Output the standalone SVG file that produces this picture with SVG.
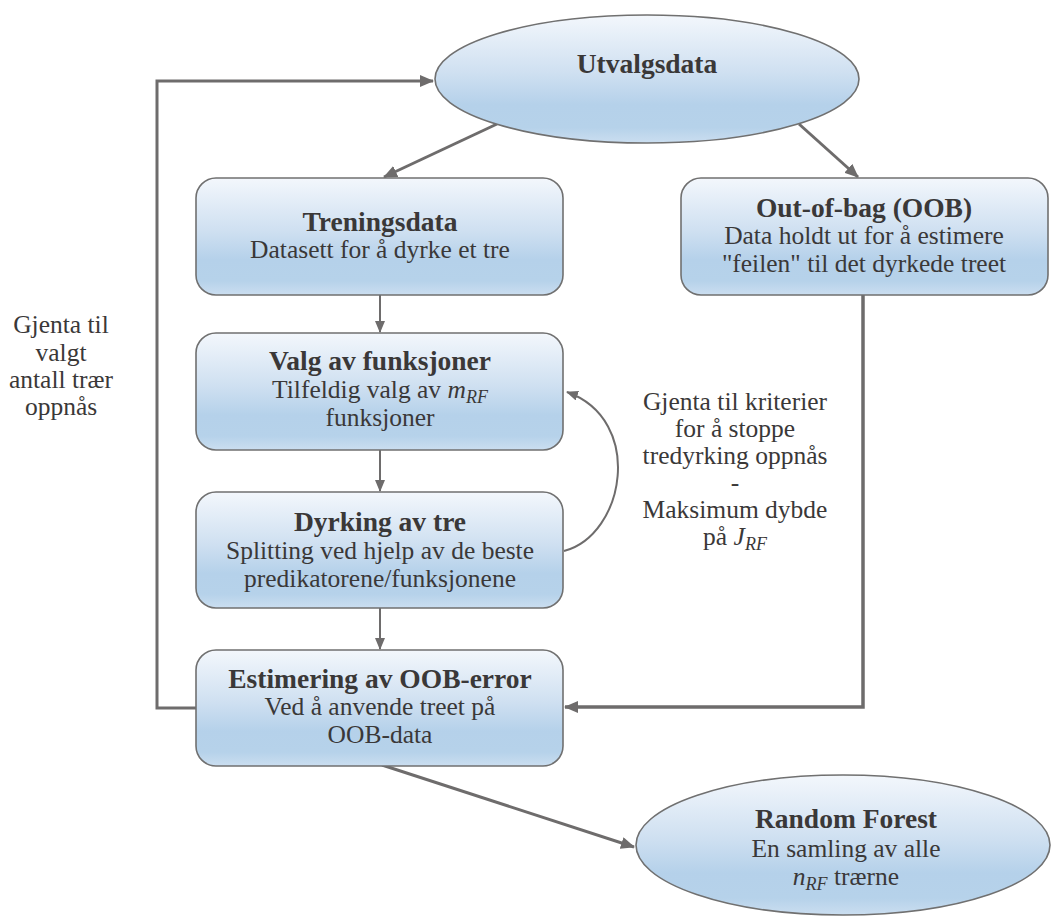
<svg xmlns="http://www.w3.org/2000/svg" width="1052" height="917" viewBox="0 0 1052 917">
<defs>
<linearGradient id="fillg" x1="0" y1="0" x2="0" y2="1">
<stop offset="0" stop-color="#f3f7fc"/>
<stop offset="0.45" stop-color="#cfe0f1"/>
<stop offset="0.7" stop-color="#b5d1ea"/>
<stop offset="0.88" stop-color="#b6d2ea"/>
<stop offset="1" stop-color="#cbdef0"/>
</linearGradient>
<marker id="arr" markerUnits="userSpaceOnUse" markerWidth="14" markerHeight="12" refX="13" refY="6" orient="auto">
<path d="M0,0 L14,6 L0,12 z" fill="#6e6c6c"/>
</marker>
<marker id="arrs" markerUnits="userSpaceOnUse" markerWidth="12" markerHeight="10" refX="11" refY="5" orient="auto">
<path d="M0,0 L12,5 L0,10 z" fill="#6e6c6c"/>
</marker>
</defs>
<style>
.box{fill:url(#fillg);stroke:#707070;stroke-width:1.6}
text{font-family:'Liberation Serif','Times New Roman',Tinos,'DejaVu Serif',serif;fill:#3a3838;text-anchor:middle}
.h{font-weight:bold;font-size:27.5px}
.t{font-size:25.5px}
.i{font-style:italic}
.sub{font-style:italic;font-size:18px}
.c{fill:none;stroke:#6e6c6c}
</style>
<g id="connectors">
<path class="c" stroke-width="3" d="M196,708 H157 V81 H433" marker-end="url(#arr)"/>
<path class="c" stroke-width="3" d="M497,124 L384,177" marker-end="url(#arr)"/>
<path class="c" stroke-width="3" d="M799,124 L858,177" marker-end="url(#arr)"/>
<path class="c" stroke-width="2" d="M380,295 V332" marker-end="url(#arrs)"/>
<path class="c" stroke-width="2" d="M380,450 V491" marker-end="url(#arrs)"/>
<path class="c" stroke-width="2" d="M380,608 V649" marker-end="url(#arrs)"/>
<path class="c" stroke-width="2" d="M564,551 C625,535 645,420 567,392" marker-end="url(#arrs)"/>
<path class="c" stroke-width="3.5" d="M863,295 V707 H565" marker-end="url(#arr)"/>
<path class="c" stroke-width="3" d="M382,765 L634,847" marker-end="url(#arr)"/>
</g>
<g id="utvalgsdata">
<ellipse class="box" cx="647" cy="79" rx="212" ry="64"/>
<text class="h" x="647" y="73" font-family="Liberation Serif, serif">Utvalgsdata</text>
</g>
<g id="treningsdata">
<rect class="box" x="196" y="178" width="367" height="117" rx="20"/>
<text class="h" x="380" y="231">Treningsdata</text>
<text class="t" x="380" y="258">Datasett for å dyrke et tre</text>
</g>
<g id="oob">
<rect class="box" x="681" y="178" width="367" height="117" rx="20"/>
<text class="h" x="864" y="217">Out-of-bag (OOB)</text>
<text class="t" x="864" y="244">Data holdt ut for å estimere</text>
<text class="t" x="864" y="272">"feilen" til det dyrkede treet</text>
</g>
<g id="valg">
<rect class="box" x="196" y="333" width="367" height="117" rx="20"/>
<text class="h" x="380" y="370">Valg av funksjoner</text>
<text class="t" x="380" y="398">Tilfeldig valg av <tspan class="i">m</tspan><tspan class="sub" dy="5">RF</tspan></text>
<text class="t" x="380" y="426">funksjoner</text>
</g>
<g id="dyrking">
<rect class="box" x="196" y="492" width="367" height="116" rx="20"/>
<text class="h" x="380" y="531">Dyrking av tre</text>
<text class="t" x="380" y="559">Splitting ved hjelp av de beste</text>
<text class="t" x="380" y="587">predikatorene/funksjonene</text>
</g>
<g id="estimering">
<rect class="box" x="196" y="650" width="367" height="116" rx="20"/>
<text class="h" x="380" y="688">Estimering av OOB-error</text>
<text class="t" x="380" y="715">Ved å anvende treet på</text>
<text class="t" x="380" y="743">OOB-data</text>
</g>
<g id="randomforest">
<ellipse class="box" cx="843" cy="845" rx="207" ry="70"/>
<text class="h" x="846" y="828">Random Forest</text>
<text class="t" x="846" y="857">En samling av alle</text>
<text class="t" x="846" y="885"><tspan class="i">n</tspan><tspan class="sub" dy="5">RF</tspan><tspan dy="-5"> trærne</tspan></text>
</g>
<g id="label-left">
<text class="t" x="61" y="333">Gjenta til</text>
<text class="t" x="61" y="361">valgt</text>
<text class="t" x="61" y="388">antall trær</text>
<text class="t" x="61" y="415">oppnås</text>
</g>
<g id="label-right">
<text class="t" x="735" y="410">Gjenta til kriterier</text>
<text class="t" x="735" y="437">for å stoppe</text>
<text class="t" x="735" y="464">tredyrking oppnås</text>
<text class="t" x="735" y="491">-</text>
<text class="t" x="735" y="518">Maksimum dybde</text>
<text class="t" x="735" y="545">på <tspan class="i">J</tspan><tspan class="sub" dy="5">RF</tspan></text>
</g>
</svg>
